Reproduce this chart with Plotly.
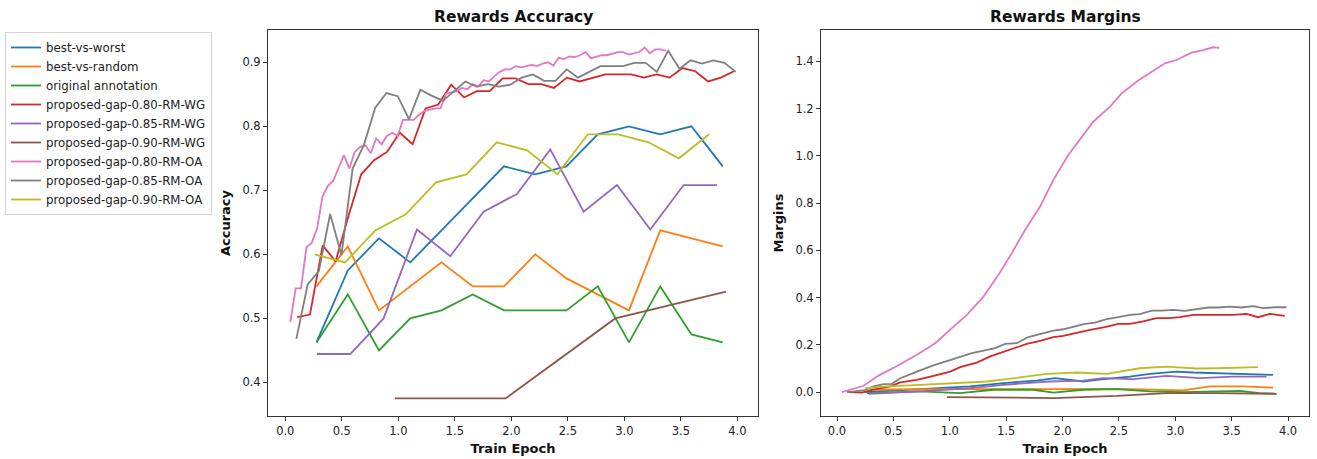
import plotly.graph_objects as go

# ---------------- Rewards Accuracy (evaluation) ----------------
acc_x_bw = [0.276, 0.553, 0.829, 1.106, 1.382, 1.659, 1.935, 2.212, 2.488, 2.765, 3.041, 3.318, 3.594, 3.871]
acc_best_vs_worst = [0.4625, 0.575, 0.625, 0.5875, 0.6375, 0.6875, 0.7375, 0.725, 0.7375, 0.7875, 0.8, 0.7875, 0.8, 0.7375]
acc_best_vs_random = [0.55, 0.6125, 0.5125, 0.55, 0.5875, 0.55, 0.55, 0.6, 0.5625, 0.5375, 0.5125, 0.6375, 0.625, 0.6125]
acc_original = [0.4625, 0.5375, 0.45, 0.5, 0.5125, 0.5375, 0.5125, 0.5125, 0.5125, 0.55, 0.4625, 0.55, 0.475, 0.4625]

acc_x_080_wg = [0.104, 0.218, 0.331, 0.445, 0.559, 0.672, 0.786, 0.9, 1.013, 1.127, 1.241, 1.354,
                1.468, 1.582, 1.695, 1.809, 1.923, 2.036, 2.15, 2.264, 2.377, 2.491, 2.605, 2.718,
                2.832, 2.946, 3.059, 3.173, 3.287, 3.4, 3.514, 3.628, 3.741, 3.855, 3.969]
acc_080_wg = [0.502, 0.506, 0.614, 0.589, 0.66, 0.725, 0.747, 0.76, 0.79, 0.772, 0.828, 0.834,
              0.865, 0.845, 0.855, 0.855, 0.875, 0.875, 0.866, 0.866, 0.86, 0.876, 0.87, 0.876,
              0.881, 0.881, 0.881, 0.876, 0.881, 0.876, 0.891, 0.886, 0.87, 0.876, 0.886]

acc_x_085_wg = [0.28, 0.575, 0.87, 1.165, 1.46, 1.755, 2.05, 2.345, 2.64, 2.935, 3.23, 3.525, 3.82]
acc_085_wg = [0.4444, 0.4444, 0.5, 0.6389, 0.5972, 0.6667, 0.6944, 0.7639, 0.6667, 0.7083, 0.6389, 0.7083, 0.7083]

acc_x_090_wg = [0.97, 1.95, 2.92, 3.9]
acc_090_wg = [0.375, 0.375, 0.5, 0.5417]

acc_x_080_oa = [0.044, 0.092, 0.139, 0.187, 0.234, 0.282, 0.329, 0.377, 0.424, 0.472, 0.519, 0.567,
                0.614, 0.662, 0.709, 0.757, 0.804, 0.852, 0.899, 0.947, 0.994, 1.042, 1.089, 1.137,
                1.184, 1.232, 1.279, 1.327, 1.374, 1.422, 1.469, 1.517, 1.564, 1.612, 1.659, 1.707,
                1.754, 1.802, 1.849, 1.897, 1.944, 1.992, 2.039, 2.087, 2.134, 2.182, 2.229, 2.277,
                2.324, 2.372, 2.419, 2.467, 2.514, 2.562, 2.609, 2.657, 2.704, 2.752, 2.799, 2.847,
                2.894, 2.942, 2.989, 3.037, 3.084, 3.132, 3.179, 3.227, 3.274, 3.322, 3.369]
acc_080_oa = [0.494, 0.547, 0.547, 0.611, 0.618, 0.641, 0.69, 0.707, 0.715, 0.735, 0.755, 0.734,
              0.76, 0.768, 0.77, 0.758, 0.781, 0.772, 0.785, 0.79, 0.785, 0.81, 0.81, 0.81,
              0.818, 0.824, 0.826, 0.828, 0.828, 0.851, 0.853, 0.855, 0.86, 0.858, 0.866, 0.862,
              0.872, 0.87, 0.878, 0.885, 0.889, 0.889, 0.894, 0.892, 0.894, 0.896, 0.894, 0.898,
              0.9, 0.895, 0.907, 0.905, 0.909, 0.908, 0.911, 0.916, 0.906, 0.909, 0.911, 0.911,
              0.913, 0.916, 0.916, 0.912, 0.914, 0.916, 0.923, 0.914, 0.92, 0.92, 0.918]

acc_x_085_oa = [0.098, 0.198, 0.297, 0.397, 0.497, 0.596, 0.696, 0.796, 0.895, 0.995, 1.095, 1.195,
                1.294, 1.394, 1.494, 1.593, 1.693, 1.793, 1.892, 1.992, 2.092, 2.191, 2.291, 2.391,
                2.49, 2.59, 2.69, 2.79, 2.89, 2.989, 3.089, 3.189, 3.288, 3.388, 3.488, 3.587,
                3.687, 3.787, 3.886, 3.986]
acc_085_oa = [0.468, 0.553, 0.574, 0.663, 0.599, 0.734, 0.771, 0.829, 0.852, 0.847, 0.811, 0.857,
              0.848, 0.84, 0.855, 0.87, 0.862, 0.866, 0.862, 0.865, 0.876, 0.881, 0.871, 0.871,
              0.889, 0.876, 0.885, 0.894, 0.894, 0.894, 0.899, 0.899, 0.885, 0.918, 0.89, 0.903,
              0.898, 0.903, 0.899, 0.885]

acc_x_090_oa = [0.26, 0.529, 0.797, 1.066, 1.334, 1.603, 1.871, 2.14, 2.408, 2.677, 2.945, 3.214, 3.482, 3.751]
acc_090_oa = [0.6, 0.5875, 0.6375, 0.6625, 0.7125, 0.725, 0.775, 0.7625, 0.725, 0.7875, 0.7875, 0.775, 0.75, 0.7875]

# ---------------- Rewards Margins (training) ----------------
mar_x_bw = [0.251, 0.738, 1.181, 1.476, 1.771, 1.934, 2.067, 2.184, 2.303, 2.48, 2.598, 2.775, 3.012, 3.159, 3.366, 3.661, 3.867]
mar_best_vs_worst = [0.0, 0.013, 0.024, 0.038, 0.049, 0.059, 0.052, 0.045, 0.052, 0.059, 0.066, 0.077, 0.087, 0.083, 0.08, 0.077, 0.073]

mar_x_br = [0.295, 0.738, 1.889, 2.48, 3.07, 3.307, 3.601, 3.867]
mar_best_vs_random = [0.01, 0.013, 0.013, 0.014, 0.007, 0.024, 0.024, 0.019]

mar_x_orig = [0.266, 0.738, 1.092, 1.387, 1.741, 1.919, 2.184, 2.48, 2.775, 3.07, 3.572, 3.749, 3.897]
mar_original = [-0.004, 0.003, -0.004, 0.01, 0.01, -0.002, 0.01, 0.013, 0.003, 0.0, 0.005, -0.004, -0.007]

mar_x_080_wg = [0.103, 0.221, 0.31, 0.472, 0.561, 0.709, 0.856, 1.004, 1.092, 1.24, 1.358, 1.461,
                1.564, 1.683, 1.801, 1.919, 2.007, 2.126, 2.244, 2.376, 2.494, 2.598, 2.716, 2.834,
                2.937, 3.041, 3.159, 3.277, 3.395, 3.513, 3.632, 3.734, 3.838, 3.971]
mar_080_wg = [0.0, -0.002, 0.01, 0.024, 0.041, 0.052, 0.069, 0.087, 0.106, 0.125, 0.151, 0.167,
              0.183, 0.204, 0.217, 0.233, 0.238, 0.252, 0.263, 0.275, 0.289, 0.289, 0.299, 0.313,
              0.313, 0.317, 0.327, 0.327, 0.327, 0.327, 0.331, 0.317, 0.331, 0.323]

mar_x_085_wg = [0.28, 0.738, 1.181, 1.476, 1.771, 1.889, 2.184, 2.361, 2.627, 2.923, 3.218, 3.513, 3.809]
mar_085_wg = [-0.007, 0.003, 0.017, 0.031, 0.041, 0.045, 0.049, 0.059, 0.055, 0.069, 0.059, 0.066, 0.066]

mar_x_090_wg = [0.974, 1.919, 2.48, 2.923, 3.366, 3.897]
mar_090_wg = [-0.021, -0.025, -0.016, -0.004, -0.004, -0.007]

mar_x_080_oa = [0.044, 0.236, 0.368, 0.516, 0.709, 0.871, 1.033, 1.152, 1.299, 1.432, 1.55, 1.668,
                1.801, 1.919, 2.051, 2.149, 2.273, 2.421, 2.524, 2.671, 2.775, 2.908, 3.011, 3.144,
                3.247, 3.336, 3.389]
mar_080_oa = [0.0, 0.027, 0.07, 0.106, 0.158, 0.207, 0.277, 0.327, 0.404, 0.496, 0.588, 0.686,
              0.785, 0.898, 1.003, 1.067, 1.144, 1.208, 1.264, 1.318, 1.349, 1.391, 1.405, 1.436,
              1.447, 1.459, 1.456]

mar_x_085_oa = [0.089, 0.236, 0.324, 0.413, 0.487, 0.561, 0.709, 0.841, 0.959, 1.092, 1.196, 1.299,
                1.402, 1.491, 1.594, 1.697, 1.816, 1.919, 2.007, 2.111, 2.199, 2.288, 2.391, 2.494,
                2.598, 2.686, 2.79, 2.879, 2.981, 3.085, 3.189, 3.291, 3.38, 3.484, 3.587, 3.69,
                3.779, 3.882, 3.986]
mar_085_oa = [0.0, 0.007, 0.024, 0.034, 0.035, 0.059, 0.087, 0.111, 0.129, 0.151, 0.165, 0.176,
              0.186, 0.204, 0.207, 0.233, 0.249, 0.26, 0.266, 0.28, 0.289, 0.294, 0.309, 0.317,
              0.327, 0.33, 0.345, 0.345, 0.348, 0.344, 0.351, 0.358, 0.358, 0.362, 0.358, 0.364,
              0.355, 0.359, 0.359]

mar_x_090_oa = [0.251, 0.443, 0.738, 1.033, 1.329, 1.506, 1.683, 1.86, 2.007, 2.126, 2.391, 2.509,
                2.686, 2.923, 3.07, 3.189, 3.366, 3.543, 3.734]
mar_090_oa = [0.017, 0.024, 0.031, 0.038, 0.045, 0.055, 0.066, 0.077, 0.08, 0.083, 0.077, 0.087,
              0.101, 0.108, 0.104, 0.1, 0.101, 0.104, 0.106]

names = ["best-vs-worst", "best-vs-random", "original annotation",
         "proposed-gap-0.80-RM-WG", "proposed-gap-0.85-RM-WG", "proposed-gap-0.90-RM-WG",
         "proposed-gap-0.80-RM-OA", "proposed-gap-0.85-RM-OA", "proposed-gap-0.90-RM-OA"]
colors = ["#1f77b4", "#ff7f0e", "#2ca02c", "#d62728", "#9467bd",
          "#8c564b", "#e377c2", "#7f7f7f", "#bcbd22"]

acc_series = [(acc_x_bw, acc_best_vs_worst), (acc_x_bw, acc_best_vs_random), (acc_x_bw, acc_original),
              (acc_x_080_wg, acc_080_wg), (acc_x_085_wg, acc_085_wg), (acc_x_090_wg, acc_090_wg),
              (acc_x_080_oa, acc_080_oa), (acc_x_085_oa, acc_085_oa), (acc_x_090_oa, acc_090_oa)]
mar_series = [(mar_x_bw, mar_best_vs_worst), (mar_x_br, mar_best_vs_random), (mar_x_orig, mar_original),
              (mar_x_080_wg, mar_080_wg), (mar_x_085_wg, mar_085_wg), (mar_x_090_wg, mar_090_wg),
              (mar_x_080_oa, mar_080_oa), (mar_x_085_oa, mar_085_oa), (mar_x_090_oa, mar_090_oa)]

W, H = 1317, 459
FONT = "DejaVu Sans"
TXT = "#222222"

fig = go.Figure()
for i, (name, col) in enumerate(zip(names, colors)):
    xs, ys = acc_series[i]
    fig.add_trace(go.Scatter(x=xs, y=ys, mode="lines", name=name, legendgroup=name,
                             line=dict(color=col, width=1.8), xaxis="x", yaxis="y"))
for i, (name, col) in enumerate(zip(names, colors)):
    xs, ys = mar_series[i]
    fig.add_trace(go.Scatter(x=xs, y=ys, mode="lines", name=name, legendgroup=name, showlegend=False,
                             line=dict(color=col, width=1.8), xaxis="x2", yaxis="y2"))

# panel geometry in pixels -> paper fractions
L1, R1 = 268, 758
L2, R2 = 821, 1309
TOP, BOT = 30, 416
ydom = [1 - BOT / H, 1 - TOP / H]

axis_common = dict(showline=True, linecolor="#333333", linewidth=1, mirror=True,
                   ticks="outside", ticklen=4, tickwidth=1, tickcolor="#333333",
                   showgrid=False, zeroline=False,
                   tickfont=dict(family=FONT, size=11.5, color=TXT))
title_font = dict(family=FONT, size=13, color="#111111", weight="bold")
epoch_ticks = [0, 0.5, 1, 1.5, 2, 2.5, 3, 3.5, 4]
epoch_text = ["0.0", "0.5", "1.0", "1.5", "2.0", "2.5", "3.0", "3.5", "4.0"]

fig.update_layout(
    width=W, height=H,
    margin=dict(l=0, r=0, t=0, b=0),
    paper_bgcolor="white", plot_bgcolor="white",
    font=dict(family=FONT, color=TXT),
    xaxis=dict(domain=[L1 / W, R1 / W], range=[-0.153, 4.183], tickvals=epoch_ticks, ticktext=epoch_text,
               title=dict(text="Train Epoch", font=title_font, standoff=7), anchor="y", **axis_common),
    yaxis=dict(domain=ydom, range=[0.3476, 0.9504], tickvals=[0.4, 0.5, 0.6, 0.7, 0.8, 0.9],
               ticktext=["0.4", "0.5", "0.6", "0.7", "0.8", "0.9"],
               title=dict(text="Accuracy", font=title_font, standoff=8), anchor="x", **axis_common),
    xaxis2=dict(domain=[L2 / W, R2 / W], range=[-0.142, 4.186], tickvals=epoch_ticks, ticktext=epoch_text,
                title=dict(text="Train Epoch", font=title_font, standoff=7), anchor="y2", **axis_common),
    yaxis2=dict(domain=ydom, range=[-0.101, 1.532], tickvals=[0, 0.2, 0.4, 0.6, 0.8, 1.0, 1.2, 1.4],
                ticktext=["0.0", "0.2", "0.4", "0.6", "0.8", "1.0", "1.2", "1.4"],
                title=dict(text="Margins", font=title_font, standoff=8), anchor="x2", **axis_common),
    legend=dict(x=5 / W, y=1 - 32 / H, xanchor="left", yanchor="top",
                bgcolor="white", bordercolor="#d4d4d4", borderwidth=1,
                font=dict(family=FONT, size=11.8, color=TXT), itemwidth=30,
                tracegroupgap=0),
    annotations=[
        dict(text="<b>Rewards Accuracy</b>", x=(L1 + R1) / 2 / W, y=1 - 17 / H, xref="paper", yref="paper",
             showarrow=False, xanchor="center", yanchor="middle",
             font=dict(family=FONT, size=15.5, color="#111111")),
        dict(text="<b>Rewards Margins</b>", x=(L2 + R2) / 2 / W, y=1 - 17 / H, xref="paper", yref="paper",
             showarrow=False, xanchor="center", yanchor="middle",
             font=dict(family=FONT, size=15.5, color="#111111")),
    ],
)

fig.write_html("out.html")
